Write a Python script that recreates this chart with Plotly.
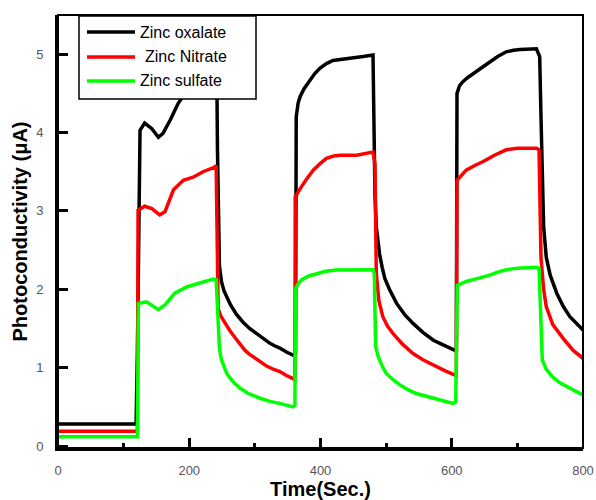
import plotly.graph_objects as go

# ---------------- data ----------------
series_names = ["Zinc oxalate", " Zinc Nitrate", "Zinc sulfate"]
series_colors = ["#000000", "#ff0000", "#00ff00"]

time_oxalate = [0, 119, 121, 125, 132, 143, 153, 160, 171, 183, 195, 210, 225, 240, 242,
                243, 246, 249, 253, 257, 263, 272, 282, 292, 300, 308, 316, 323, 330, 338, 348, 358, 362,
                363, 366, 369, 375, 384, 391, 399, 409, 419, 440, 450, 465, 480,
                481, 483, 485, 490, 494, 498, 505, 516, 528, 541, 556, 572, 582, 595, 605, 607,
                608, 612, 617, 624, 632, 645, 658, 670, 683, 694, 704, 729, 734,
                736, 740, 744, 750, 760, 770, 780, 790, 800]
curr_oxalate = [0.28, 0.28, 1.2, 4.03, 4.12, 4.05, 3.94, 3.99, 4.16, 4.37, 4.52, 4.65, 4.74, 4.8, 4.75,
                3.78, 2.3, 2.1, 1.98, 1.9, 1.8, 1.68, 1.58, 1.5, 1.45, 1.4, 1.35, 1.31, 1.28, 1.25, 1.2, 1.16, 1.18,
                4.2, 4.38, 4.46, 4.56, 4.67, 4.75, 4.82, 4.88, 4.92, 4.94, 4.95, 4.97, 4.99,
                4.25, 3.2, 2.8, 2.45, 2.28, 2.14, 2.0, 1.82, 1.68, 1.565, 1.45, 1.35, 1.31, 1.26, 1.22, 1.2,
                4.5, 4.6, 4.65, 4.7, 4.75, 4.83, 4.9, 4.97, 5.03, 5.05, 5.06, 5.07, 4.97,
                4.2, 2.8, 2.41, 2.18, 1.95, 1.78, 1.65, 1.56, 1.48]

time_nitrate = [0, 121, 122, 132, 143, 155, 163, 176, 191, 206, 221, 239, 241,
                244, 248, 252, 257, 262, 272, 277, 285, 292, 300, 308, 318, 328, 338, 348, 358, 361,
                361.5, 366, 371, 380, 389, 399, 409, 420, 430, 455, 480,
                483, 485, 489, 495, 502, 511, 525, 541, 556, 572, 590, 605, 607,
                608, 615, 622, 635, 648, 665, 683, 700, 729, 733,
                736, 740, 744, 754, 770, 785, 800]
curr_nitrate = [0.19, 0.19, 3.01, 3.06, 3.03, 2.95, 2.99, 3.27, 3.39, 3.43, 3.5, 3.56, 3.58,
                1.75, 1.66, 1.6, 1.53, 1.47, 1.36, 1.3, 1.22, 1.17, 1.12, 1.07, 1.02, 0.98, 0.95, 0.9, 0.86, 0.85,
                3.18, 3.25, 3.31, 3.42, 3.52, 3.6, 3.67, 3.7, 3.71, 3.71, 3.75,
                3.6, 2.2, 1.85, 1.65, 1.53, 1.43, 1.3, 1.18, 1.1, 1.03, 0.96, 0.905, 0.9,
                3.39, 3.46, 3.52, 3.58, 3.63, 3.71, 3.78, 3.8, 3.8, 3.78,
                2.4, 2.0, 1.78, 1.55, 1.37, 1.22, 1.12]

time_sulfate = [0, 121, 122.5, 135, 153, 163, 178, 196, 216, 237, 241,
                243, 244, 246, 249, 253, 257, 262, 268, 277, 290, 308, 323, 338, 358, 361,
                362, 366, 371, 382, 394, 408, 424, 480,
                482, 484, 488, 494, 500, 510, 521, 533, 546, 560, 572, 588, 602, 606,
                608.5, 615, 622, 640, 658, 670, 683, 700, 729, 733,
                736, 738, 744, 754, 764, 775, 785, 795, 800]
curr_sulfate = [0.12, 0.12, 1.82, 1.84, 1.74, 1.8, 1.95, 2.03, 2.08, 2.13, 2.12,
                1.69, 1.5, 1.25, 1.1, 1.0, 0.93, 0.87, 0.81, 0.74, 0.67, 0.61, 0.57, 0.545, 0.5, 0.52,
                2.01, 2.07, 2.12, 2.17, 2.2, 2.23, 2.245, 2.25,
                2.2, 1.27, 1.14, 1.02, 0.93, 0.85, 0.78, 0.72, 0.67, 0.635, 0.61, 0.575, 0.545, 0.56,
                2.05, 2.08, 2.1, 2.14, 2.18, 2.22, 2.25, 2.27, 2.28, 2.27,
                1.4, 1.1, 0.98, 0.88, 0.81, 0.76, 0.71, 0.67, 0.65]

x_ticks = [0, 200, 400, 600, 800]
y_ticks = [0, 1, 2, 3, 4, 5]

# ---------------- layout geometry ----------------
W, H = 596, 500
ML, MR, MT, MB = 58, 13, 15, 52
PW, PH = W - ML - MR, H - MT - MB


def pxx(px):
    return (px - ML) / PW


def pxy(py):
    return (H - MB - py) / PH


fig = go.Figure()
for t, c, name, col in zip([time_oxalate, time_nitrate, time_sulfate],
                           [curr_oxalate, curr_nitrate, curr_sulfate],
                           series_names, series_colors):
    fig.add_trace(go.Scatter(x=t, y=c, mode="lines", name=name,
                             line=dict(color=col, width=3.5), showlegend=False))

tick_font = dict(family="Arial, Liberation Sans, sans-serif", size=13, color="#555560")
title_font = dict(family="Arial, Liberation Sans, sans-serif", size=20, color="#000000", weight="bold")

fig.update_layout(
    width=W, height=H,
    margin=dict(l=ML, r=MR, t=MT, b=MB, pad=0, autoexpand=False),
    plot_bgcolor="white", paper_bgcolor="white",
    xaxis=dict(range=[0, 800], tickvals=x_ticks, ticks="inside", ticklen=10, tickwidth=2.5,
               tickcolor="black", showline=True, linewidth=3, linecolor="black",
               showgrid=False, zeroline=False, tickfont=tick_font, ticklabelstandoff=8,
               automargin=False,
               minor=dict(dtick=100, ticks="inside", ticklen=5, tickwidth=2.5, tickcolor="black",
                          showgrid=False),
               title=dict(text="Time(Sec.)", font=title_font, standoff=4)),
    yaxis=dict(range=[-0.025, 5.5], tickvals=y_ticks, ticks="inside", ticklen=10, tickwidth=2.5,
               tickcolor="black", showline=True, linewidth=3, linecolor="black",
               showgrid=False, zeroline=False, tickfont=tick_font, ticklabelstandoff=9,
               automargin=False,
               title=dict(text="Photoconductivity (μA)", font=title_font, standoff=4)),
)

# frame (top / right thinner lines)
fig.add_shape(type="rect", xref="paper", yref="paper", x0=0, x1=1, y0=0, y1=1,
              line=dict(color="black", width=2), layer="above")

# legend box drawn manually to match the reference geometry
fig.add_shape(type="rect", xref="paper", yref="paper",
              x0=pxx(79), x1=pxx(256), y0=pxy(99), y1=pxy(16),
              fillcolor="white", line=dict(color="black", width=1.5), layer="above")
legend_rows = [32, 57, 81]
legend_text_x = [138, 143, 138]
for row, tx, name, col in zip(legend_rows, legend_text_x, series_names, series_colors):
    fig.add_shape(type="line", xref="paper", yref="paper",
                  x0=pxx(87), x1=pxx(135), y0=pxy(row), y1=pxy(row),
                  line=dict(color=col, width=3.5), layer="above")
    fig.add_annotation(xref="paper", yref="paper", x=pxx(tx), y=pxy(row),
                       text=name.strip(), showarrow=False, xanchor="left", yanchor="middle",
                       font=dict(family="Arial, Liberation Sans, sans-serif", size=16, color="black"))

fig.write_html("out.html")
